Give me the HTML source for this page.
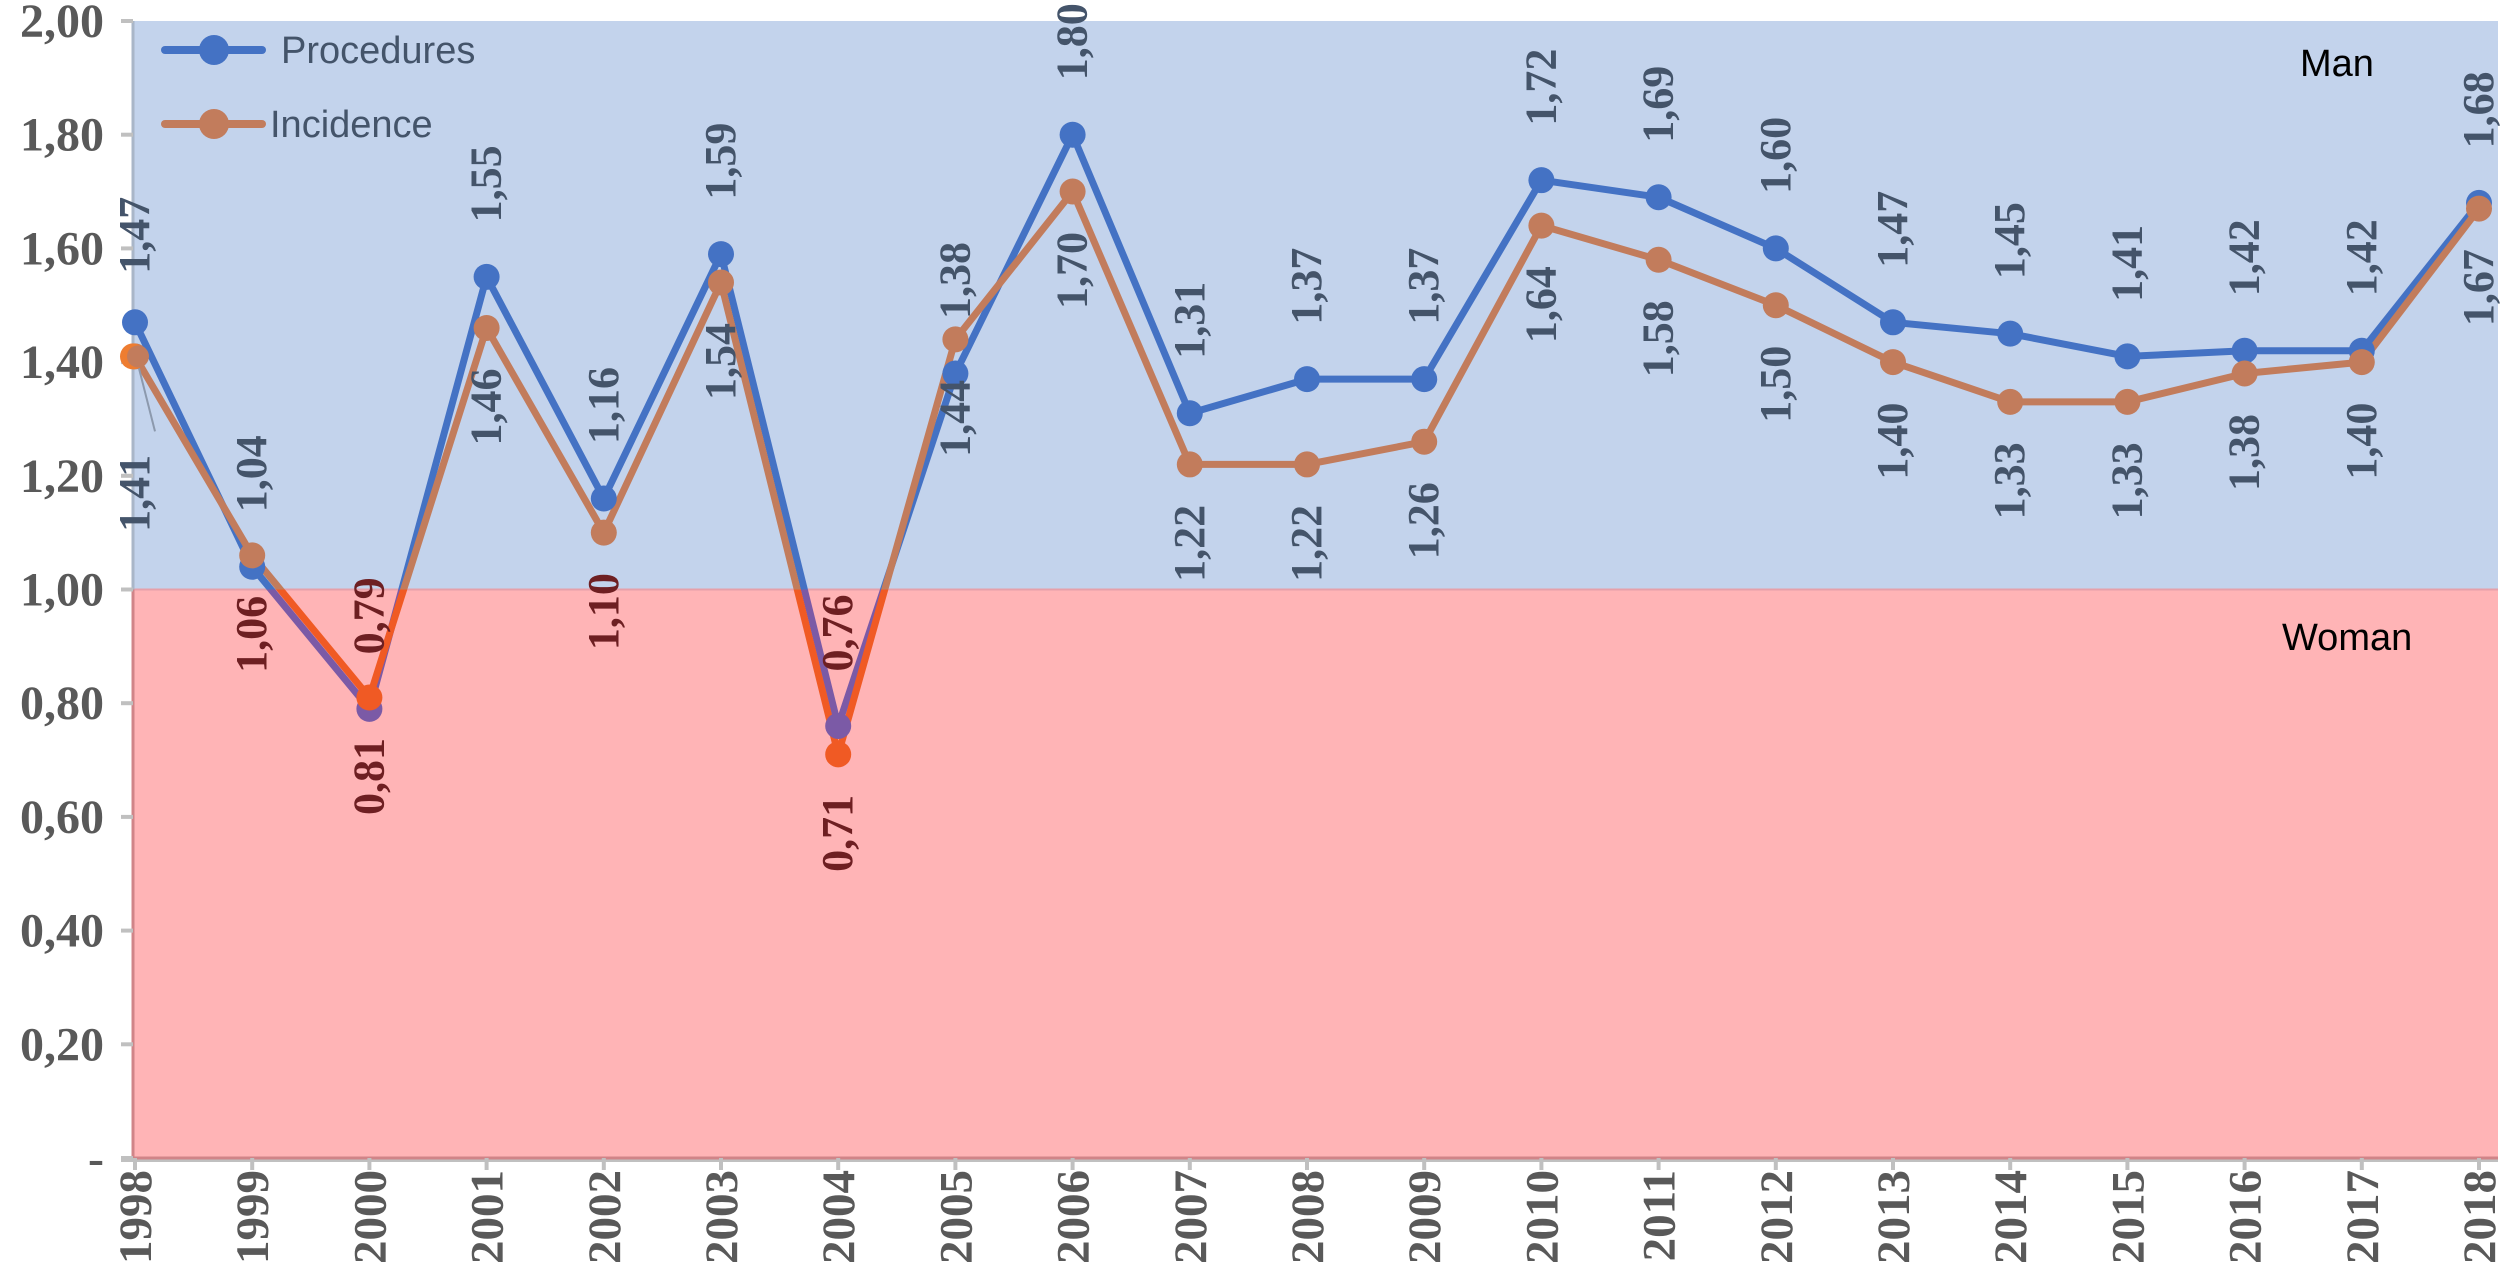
<!DOCTYPE html>
<html><head><meta charset="utf-8"><style>
html,body{margin:0;padding:0;background:#fff;}
svg{display:block;}
</style></head><body>
<svg id="chart" width="2508" height="1276" viewBox="0 0 2508 1276" xmlns="http://www.w3.org/2000/svg"></svg>
<script>
const years = [1998,1999,2000,2001,2002,2003,2004,2005,2006,2007,2008,2009,2010,2011,2012,2013,2014,2015,2016,2017,2018];
const procedures = [1.47,1.04,0.79,1.55,1.16,1.59,0.76,1.38,1.80,1.31,1.37,1.37,1.72,1.69,1.60,1.47,1.45,1.41,1.42,1.42,1.68];
const incidence = [1.41,1.06,0.81,1.46,1.10,1.54,0.71,1.44,1.70,1.22,1.22,1.26,1.64,1.58,1.50,1.40,1.33,1.33,1.38,1.40,1.67];
const yTicks = [0,0.2,0.4,0.6,0.8,1.0,1.2,1.4,1.6,1.8,2.0];
const yTickLabels = ["-","0,20","0,40","0,60","0,80","1,00","1,20","1,40","1,60","1,80","2,00"];

const NS="http://www.w3.org/2000/svg";
const svg=document.getElementById('chart');
const L=133,R=2498,T=21,B=1158;
const x0=135,x1=2479;
function X(i){return x0+(x1-x0)*i/(years.length-1);}
function Y(v){return B-(B-T)*v/2;}
function el(tag,attrs,parent){const e=document.createElementNS(NS,tag);for(const k in attrs)e.setAttribute(k,attrs[k]);(parent||svg).appendChild(e);return e;}
const fmt=v=>v.toFixed(2).replace('.',',');

let r=el('rect',{x:L,y:T,width:R-L,height:Y(1)-T,fill:'#c3d3ec'});


r=el('rect',{x:L,y:Y(1),width:R-L,height:B-Y(1),fill:'#ffb4b6'});


el('line',{x1:L,y1:Y(1),x2:R,y2:Y(1),stroke:'#e6a0aa','stroke-width':2});

el('line',{x1:L,y1:T,x2:L,y2:Y(1),stroke:'#a9b6c8','stroke-width':3});
el('line',{x1:L,y1:Y(1),x2:L,y2:B,stroke:'#d08488','stroke-width':3});
el('line',{x1:L-12,y1:B+2,x2:R,y2:B+2,stroke:'#c0c0c0','stroke-width':4});
el('line',{x1:L,y1:B,x2:R,y2:B,stroke:'#d08488','stroke-width':3});

yTicks.forEach((v,i)=>{
  el('line',{x1:L-12,y1:Y(v),x2:L,y2:Y(v),stroke:'#c0c0c0','stroke-width':4});
  const t=el('text',{x:104,y:Y(v)+16,'text-anchor':'end','font-family':'Liberation Serif, serif','font-weight':'bold','font-size':48,fill:'#595959'});
  t.textContent=yTickLabels[i];
  
  
});
years.forEach((yr,i)=>{
  el('line',{x1:X(i),y1:B,x2:X(i),y2:B+12,stroke:'#c0c0c0','stroke-width':4});
  const t=el('text',{x:0,y:0,'text-anchor':'end','font-family':'Liberation Serif, serif','font-weight':'bold','font-size':47,fill:'#595959',transform:`translate(${X(i)+16},1170) rotate(-90)`});
  t.textContent=yr;
  
  
});

const defs=el('defs',{});
const cu=el('clipPath',{id:'above'},defs);el('rect',{x:0,y:0,width:2508,height:Y(1)},cu);
const cb=el('clipPath',{id:'below'},defs);el('rect',{x:0,y:Y(1),width:2508,height:1276},cb);

function series(vals,col,lowCol,name){
  const pts=vals.map((v,i)=>X(i)+','+Y(v)).join(' ');
  let p=el('polyline',{points:pts,fill:'none',stroke:col,'stroke-width':7,'stroke-linejoin':'round','clip-path':'url(#above)'});
  
  
  el('polyline',{points:pts,fill:'none',stroke:lowCol,'stroke-width':7,'stroke-linejoin':'round','clip-path':'url(#below)'});
}
function markers(vals,col,lowCol,name){
  vals.forEach((v,i)=>{
    const c=el('circle',{cx:X(i),cy:Y(v),r:13,fill:v<1?lowCol:col});
    
    
  });
}
series(procedures,'#4472c4','#7b5aa6','procedures');
series(incidence,'#c27c5c','#f05a24','incidence');
markers(procedures,'#4472c4','#7b5aa6','procedures');
markers(incidence,'#c27c5c','#f05a24','incidence');
el('circle',{cx:X(0)-2,cy:Y(incidence[0]),r:13,fill:'#ee7d31'});
el('circle',{cx:X(0)+3,cy:Y(incidence[0]),r:11,fill:'#c27c5c'});
el('line',{x1:X(0)+4,y1:Y(incidence[0])+12,x2:X(0)+20,y2:Y(incidence[0])+75,stroke:'#8c99ad','stroke-width':2});

function label(v,i,above,name){
  const w=74;
  let yEnd, yStart;
  if(above){yEnd=Y(v)-(i===0?50:56);yStart=yEnd-w;}else{yStart=Y(v)+(i===0?100:42);yEnd=yStart+w;}
  const mid=(yStart+yEnd)/2;
  const col=mid>Y(1)?'#6e1f22':'#44546a';
  const t=el('text',{x:0,y:0,'text-anchor':'middle','font-family':'Liberation Serif, serif','font-weight':'bold','font-size':44,fill:col,transform:`translate(${X(i)+14},${mid}) rotate(-90)`});
  t.textContent=fmt(v);
  
  
}
procedures.forEach((v,i)=>label(v,i,true,'procedures'));
incidence.forEach((v,i)=>label(v,i,false,'incidence'));

const lg=el('g',{});


[['Procedures','#4472c4',50,281],['Incidence','#c27c5c',124,270]].forEach(([n,c,y,tx])=>{
  const g=el('g',{},lg);
  
  
  el('line',{x1:165,y1:y,x2:262,y2:y,stroke:c,'stroke-width':8,'stroke-linecap':'round'},g);
  el('circle',{cx:214,cy:y,r:15,fill:c},g);
  const t=el('text',{x:tx,y:y+13,'font-family':'Liberation Sans, sans-serif','font-size':38,fill:'#44546a'},g);
  t.textContent=n;
});
let t=el('text',{x:2300,y:76,'font-family':'Liberation Sans, sans-serif','font-size':38,fill:'#000'});
t.textContent='Man';


t=el('text',{x:2282,y:650,'font-family':'Liberation Sans, sans-serif','font-size':38,fill:'#000'});
t.textContent='Woman';


</script>
</body></html>
